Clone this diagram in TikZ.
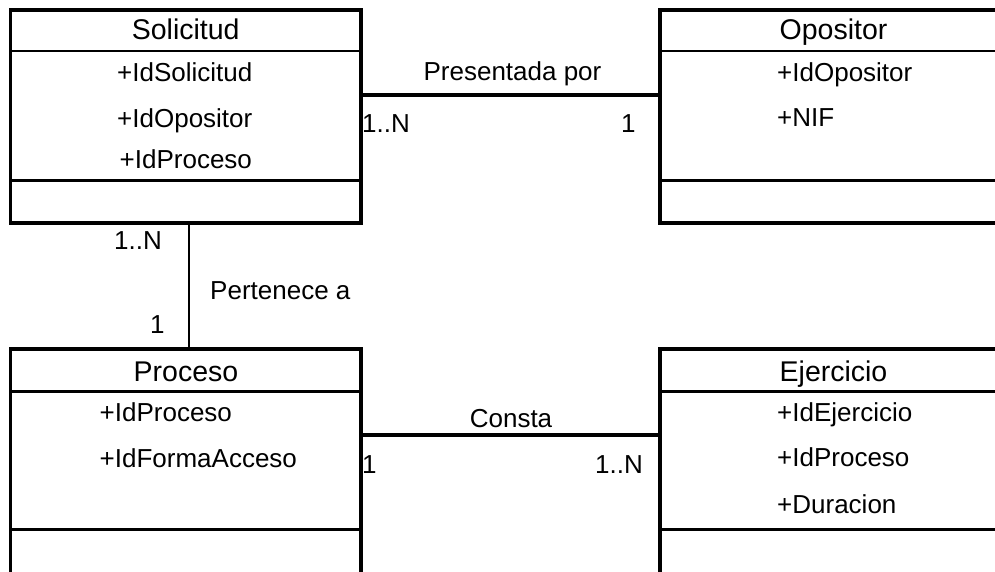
\documentclass[tikz,border=0pt]{standalone}
\usepackage{fontspec}
\setmainfont{Liberation Sans}
\begin{document}
\begin{tikzpicture}[x=1pt,y=-1pt,
  cls/.style={draw, line width=3.5pt, rectangle, outer sep=0pt, inner sep=0pt, anchor=north west, minimum width=350.5pt},
  div/.style={line width=2.6pt},
  assoc/.style={line width=4pt},
  assocv/.style={line width=2.6pt},
  title/.style={anchor=base, inner sep=0pt, font=\fontsize{28.5}{32}\selectfont},
  attr/.style={anchor=base west, inner sep=0pt, font=\fontsize{26}{30}\selectfont},
  lbl/.style={anchor=base west, inner sep=0pt, font=\fontsize{26}{30}\selectfont},
  lblc/.style={anchor=base, inner sep=0pt, font=\fontsize{26}{30}\selectfont}]
\clip (0,0) rectangle (995,572);
% classes
\node[cls, minimum height=213pt] (sol) at (10.5,9.8) {};
\node[cls, minimum height=213pt] (opo) at (660,9.8) {};
\node[cls, minimum height=260pt] (pro) at (10.5,349) {};
\node[cls, minimum height=260pt] (eje) at (660,349) {};
% dividers
\foreach \n in {sol,opo}{
  \draw[div] (\n.west |- 0,51.2) -- (\n.east |- 0,51.2);
  \draw[div] (\n.west |- 0,180.7) -- (\n.east |- 0,180.7);
}
\foreach \n in {pro,eje}{
  \draw[div] (\n.west |- 0,391.2) -- (\n.east |- 0,391.2);
  \draw[div] (\n.west |- 0,529.2) -- (\n.east |- 0,529.2);
}
% titles
\node[title] (solT) at (185.7,40) {Solicitud};
\node[title] (opoT) at (833.5,39.7) {Opositor};
\node[title] (proT) at (186,381.7) {Proceso};
\node[title] (ejeT) at (833.5,381) {Ejercicio};
% attributes
\node[attr] (sa1) at (117,82) {+IdSolicitud};
\node[attr] (sa2) at (117,128) {+IdOpositor};
\node[attr] (sa3) at (119.5,168) {+IdProceso};
\node[attr] (oa1) at (777,81.7) {+IdOpositor};
\node[attr] (oa2) at (777,126.7) {+NIF};
\node[attr] (pa1) at (99.5,421.7) {+IdProceso};
\node[attr] (pa2) at (99.5,467.3) {+IdFormaAcceso};
\node[attr] (ea1) at (777,421.7) {+IdEjercicio};
\node[attr] (ea2) at (777,466.7) {+IdProceso};
\node[attr] (ea3) at (777,513.3) {+Duracion};
% associations
\draw[assoc] (sol.east |- 0,95) -- (opo.west |- 0,95);
\draw[assoc] (pro.east |- 0,435) -- (eje.west |- 0,435);
\draw[assocv] (sol.south -| 189,0) -- (pro.north -| 189,0);
% association labels
\node[lblc] (l1) at (512.5,81) {Presentada por};
\node[lbl] (m1a) at (362,133) {1..N};
\node[lbl] (m1b) at (621,133) {1};
\node[lblc] (l2) at (511,427) {Consta};
\node[lbl] (m2a) at (362,473) {1};
\node[lbl] (m2b) at (595,473) {1..N};
\node[lbl] (l3) at (210,299) {Pertenece a};
\node[lbl] (m3a) at (114,249) {1..N};
\node[lbl] (m3b) at (150,333) {1};
\end{tikzpicture}
\end{document}
